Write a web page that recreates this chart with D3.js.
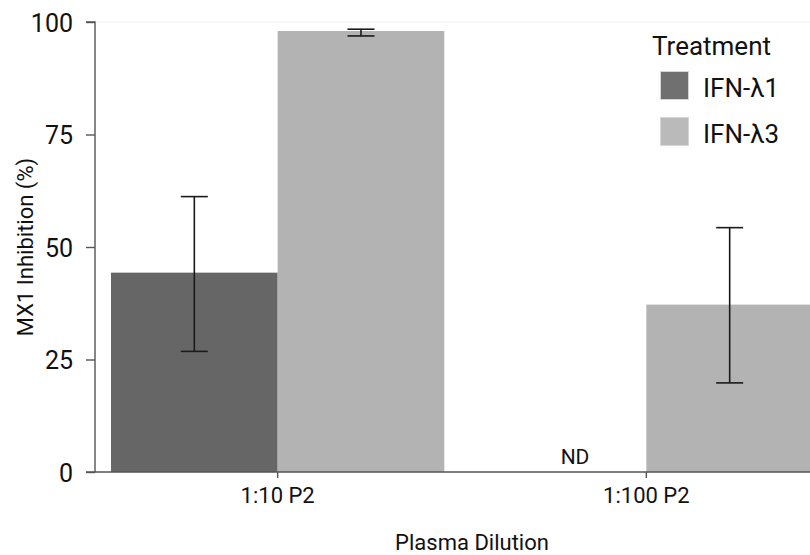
<!DOCTYPE html>
<html>
<head>
<meta charset="utf-8">
<script src="https://cdn.jsdelivr.net/npm/d3@7"></script>
<style>
  html, body { margin: 0; padding: 0; background: #fff; }
  svg { display: block; font-family: Roboto, "Noto Sans", sans-serif; }
</style>
</head>
<body>
<svg id="chart" width="810" height="555"></svg>
<script>
// ---- data ----
const categories = ["1:10 P2", "1:100 P2"];
const seriesNames = ["IFN-λ1", "IFN-λ3"];
const seriesColors = ["#666666", "#b3b3b3"];
const legendColors = ["#707070", "#bababa"];
// mean values per series, per category (null = not detected)
const lambda1Values = [44.3, null];
const lambda3Values = [98.0, 37.2];
const lambda1Lower = [26.8, null];
const lambda1Upper = [61.2, null];
const lambda3Lower = [96.9, 19.8];
const lambda3Upper = [98.4, 54.3];
const yTicks = [0, 25, 50, 75, 100];
const ndLabel = "ND";
const xTitle = "Plasma Dilution";
const yTitle = "MX1 Inhibition (%)";
const legendTitle = "Treatment";

const seriesData = [
  { name: seriesNames[0], values: lambda1Values, lower: lambda1Lower, upper: lambda1Upper },
  { name: seriesNames[1], values: lambda3Values, lower: lambda3Lower, upper: lambda3Upper }
];

// ---- layout ----
const svg = d3.select("#chart");
const mLeft = 95, mTop = 22, mBottom = 472;

const x = d3.scaleBand().domain(categories).range([mLeft, 829])
  .paddingInner(0.096).paddingOuter(0.0434);
const xs = d3.scaleBand().domain(seriesNames).range([0, x.bandwidth()]).padding(0);
const y = d3.scaleLinear().domain([0, 100]).range([mBottom, mTop]);
const color = d3.scaleOrdinal().domain(seriesNames).range(seriesColors);

// faint top line
svg.append("line")
  .attr("x1", mLeft).attr("x2", 810)
  .attr("y1", y(100)).attr("y2", y(100))
  .attr("stroke", "#f2f2f2").attr("stroke-width", 1);

// bars
const flat = [];
categories.forEach((c, i) => {
  seriesData.forEach(s => {
    flat.push({ cat: c, series: s.name, value: s.values[i], lo: s.lower[i], hi: s.upper[i] });
  });
});

svg.append("g").selectAll("rect")
  .data(flat.filter(d => d.value != null))
  .join("rect")
  .attr("x", d => x(d.cat) + xs(d.series))
  .attr("width", xs.bandwidth())
  .attr("y", d => y(d.value))
  .attr("height", d => y(0) - y(d.value))
  .attr("fill", d => color(d.series));

// error bars
const eb = svg.append("g").attr("stroke", "#1a1a1a").attr("stroke-width", 1.6).attr("fill", "none");
const capHalf = 13.5;
flat.filter(d => d.value != null).forEach(d => {
  const cx = x(d.cat) + xs(d.series) + xs.bandwidth() / 2;
  eb.append("line").attr("x1", cx).attr("x2", cx).attr("y1", y(d.hi)).attr("y2", y(d.lo));
  eb.append("line").attr("x1", cx - capHalf).attr("x2", cx + capHalf).attr("y1", y(d.hi)).attr("y2", y(d.hi));
  eb.append("line").attr("x1", cx - capHalf).attr("x2", cx + capHalf).attr("y1", y(d.lo)).attr("y2", y(d.lo));
});

// ND label
flat.filter(d => d.value == null).forEach(d => {
  const cx = x(d.cat) + xs(d.series) + xs.bandwidth() / 2;
  svg.append("text")
    .attr("x", cx + 12).attr("y", y(0) - 8.5)
    .attr("text-anchor", "middle")
    .attr("font-size", 21).attr("fill", "#111")
    .text(ndLabel);
});

// y axis
const yAxis = svg.append("g").attr("transform", `translate(${mLeft},0)`)
  .call(d3.axisLeft(y).tickValues(yTicks).tickSize(9).tickPadding(13));
yAxis.select(".domain").attr("stroke", "#555").attr("stroke-width", 1.4).attr("d", `M-9,${y(100)}H0V${y(0)}`);
yAxis.selectAll(".tick line").attr("stroke", "#555").attr("stroke-width", 1.4);
yAxis.selectAll(".tick text").attr("font-size", 25).attr("fill", "#111")
  .attr("font-family", "Roboto, sans-serif").attr("dy", "0.36em");

// x axis
const xAxis = svg.append("g").attr("transform", `translate(0,${mBottom})`)
  .call(d3.axisBottom(x).tickSize(6).tickPadding(9));
xAxis.select(".domain").attr("stroke", "#555").attr("stroke-width", 1.4).attr("d", `M${mLeft - 9},0H830`);
xAxis.selectAll(".tick line").attr("stroke", "#555").attr("stroke-width", 1.4);
xAxis.selectAll(".tick text").attr("font-size", 22).attr("fill", "#111")
  .attr("font-family", "Roboto, sans-serif").attr("dy", "0.71em");

// axis titles
svg.append("text")
  .attr("x", (mLeft + 849) / 2).attr("y", 550)
  .attr("text-anchor", "middle").attr("font-size", 22).attr("fill", "#111")
  .text(xTitle);
svg.append("text")
  .attr("transform", `translate(33,${(mTop + mBottom) / 2}) rotate(-90)`)
  .attr("text-anchor", "middle").attr("font-size", 22).attr("fill", "#111")
  .text(yTitle);

// legend
const lg = svg.append("g");
lg.append("text").attr("x", 652).attr("y", 55).attr("font-size", 26).attr("fill", "#111").text(legendTitle);
const ly = d3.scalePoint().domain(seriesNames).range([71, 117]);
seriesNames.forEach((n, i) => {
  lg.append("rect").attr("x", 660.5).attr("y", ly(n) + 0.5).attr("width", 28).attr("height", 28)
    .attr("fill", legendColors[i]).attr("stroke", "#d6d6d6").attr("stroke-width", 1);
  lg.append("text").attr("x", 703).attr("y", ly(n) + 25.5).attr("font-size", 26).attr("fill", "#111").text(n);
});
</script>
</body>
</html>
